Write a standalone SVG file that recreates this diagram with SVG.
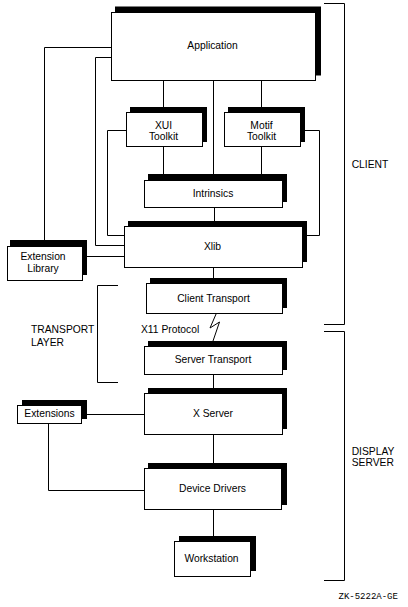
<svg xmlns="http://www.w3.org/2000/svg" width="408" height="607" viewBox="0 0 408 607">
<style>
.box{fill:#fff;stroke:#000;stroke-width:1}
.sh{fill:#000}
.ln{fill:none;stroke:#000;stroke-width:1}
text{font-family:"Liberation Sans",Arial,sans-serif;font-size:10.3px;fill:#000}
.c{text-anchor:middle}
.tag{font-family:"Liberation Mono","DejaVu Sans Mono",monospace;font-size:9px}
</style>
<rect width="408" height="607" fill="#fff"/>
<g id="connectors">
<path class="ln" d="M111,47.5 H44.5 V240"/>
<path class="ln" d="M111,57.5 H95.5 V245.5 H124"/>
<path class="ln" d="M126,130.5 H107.5 V235.5 H124"/>
<path class="ln" d="M301,130.5 H319.5 V235.5 H303"/>
<path class="ln" d="M163.5,81 V107"/>
<path class="ln" d="M213.5,81 V174"/>
<path class="ln" d="M261.5,81 V107"/>
<path class="ln" d="M163.5,147 V174"/>
<path class="ln" d="M261.5,147 V174"/>
<path class="ln" d="M214.5,208 V221"/>
<path class="ln" d="M87,256.5 H124"/>
<path class="ln" d="M213.5,268 V278"/>
<path class="ln" d="M216.5,313 L210,328 L219.5,322 L213,341"/>
<path class="ln" d="M213.5,375 V388"/>
<path class="ln" d="M87,414.5 H144"/>
<path class="ln" d="M48.5,424 V490.5 H144"/>
<path class="ln" d="M213.5,435 V463"/>
<path class="ln" d="M213.5,510 V536"/>
</g>
<g id="brackets">
<path class="ln" d="M324,3.5 H344.5 V324.5 H324"/>
<path class="ln" d="M324,331.5 H344.5 V580.5 H324"/>
<path class="ln" d="M118,285.5 H97.5 V382.5 H118"/>
</g>
<g id="application">
<rect class="sh" x="115" y="6.5" width="206" height="69"/>
<rect class="box" x="111.5" y="12.5" width="204" height="68"/>
<text class="c" x="212.5" y="48.7">Application</text>
</g>
<g id="xui">
<rect class="sh" x="130" y="107" width="77" height="35"/>
<rect class="box" x="126.5" y="112.5" width="76" height="34"/>
<text class="c" x="163.5" y="128.8">XUI</text>
<text class="c" x="163.5" y="139.8">Toolkit</text>
</g>
<g id="motif">
<rect class="sh" x="228" y="107" width="77" height="35"/>
<rect class="box" x="224.5" y="112.5" width="76" height="34"/>
<text class="c" x="261.5" y="128.8">Motif</text>
<text class="c" x="261.5" y="139.8">Toolkit</text>
</g>
<g id="intrinsics">
<rect class="sh" x="148" y="174" width="139" height="28"/>
<rect class="box" x="144.5" y="180.5" width="138" height="27"/>
<text class="c" x="213" y="197">Intrinsics</text>
</g>
<g id="xlib">
<rect class="sh" x="128" y="221" width="179" height="41"/>
<rect class="box" x="124.5" y="226.5" width="178" height="41"/>
<text class="c" x="212.5" y="250.4">Xlib</text>
</g>
<g id="extension-library">
<rect class="sh" x="10" y="240" width="77" height="35"/>
<rect class="box" x="7.5" y="246.5" width="75" height="34"/>
<text class="c" x="43" y="260.4">Extension</text>
<text class="c" x="43" y="271.7">Library</text>
</g>
<g id="client-transport">
<rect class="sh" x="150" y="278" width="137" height="30"/>
<rect class="box" x="146.5" y="283.5" width="136" height="30"/>
<text class="c" x="213.5" y="302">Client Transport</text>
</g>
<text x="141" y="332.7">X11 Protocol</text>
<text x="31" y="333">TRANSPORT</text>
<text x="31" y="345.7">LAYER</text>
<g id="server-transport">
<rect class="sh" x="148" y="341" width="139" height="29"/>
<rect class="box" x="144.5" y="346.5" width="138" height="28"/>
<text class="c" x="213" y="363">Server Transport</text>
</g>
<g id="x-server">
<rect class="sh" x="148" y="388" width="139" height="41"/>
<rect class="box" x="144.5" y="393.5" width="138" height="41"/>
<text class="c" x="213" y="417">X Server</text>
</g>
<g id="extensions">
<rect class="sh" x="22" y="400" width="65" height="19"/>
<rect class="box" x="17.5" y="405.5" width="64" height="18"/>
<text class="c" x="49.5" y="417">Extensions</text>
</g>
<g id="device-drivers">
<rect class="sh" x="148" y="463" width="139" height="42"/>
<rect class="box" x="144.5" y="468.5" width="137" height="41"/>
<text class="c" x="212.5" y="492">Device Drivers</text>
</g>
<g id="workstation">
<rect class="sh" x="179" y="536" width="77" height="35"/>
<rect class="box" x="174.5" y="541.5" width="76" height="35"/>
<text class="c" x="211.5" y="562">Workstation</text>
</g>
<text x="351.7" y="167.7">CLIENT</text>
<text x="351.7" y="454.7">DISPLAY</text>
<text x="351.7" y="466.4">SERVER</text>
<text class="tag" x="338.5" y="599">ZK-5222A-GE</text>
</svg>
